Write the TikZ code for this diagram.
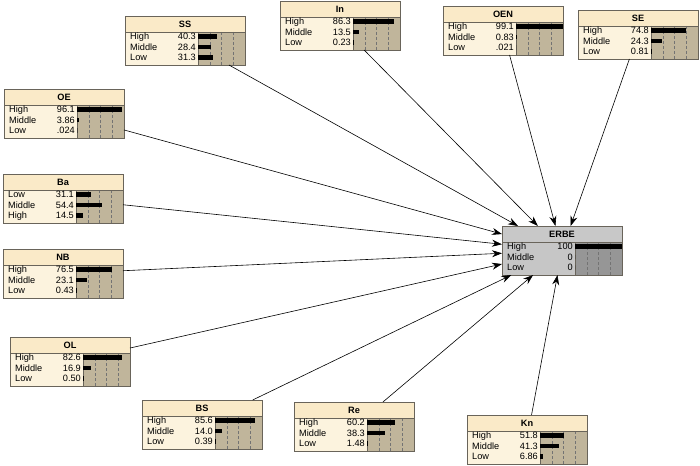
\documentclass[tikz,border=0pt]{standalone}
\usepackage{fontspec}
\setmainfont{Liberation Sans}
\usetikzlibrary{arrows.meta}
\definecolor{ttitle}{RGB}{250,234,200}
\definecolor{tbody}{RGB}{252,243,222}
\definecolor{tbar}{RGB}{192,181,155}
\definecolor{gtitle}{RGB}{200,200,200}
\definecolor{gbody}{RGB}{198,198,198}
\definecolor{gbar}{RGB}{150,150,150}
\definecolor{bordercol}{RGB}{105,100,90}
\newcommand\fsz{\fontsize{9.2}{10}\selectfont}
\newcommand\bnode[6]{%
  \fill[#6body] (#2,#3) rectangle ++(120,49);
  \fill[#6title] (#2,#3) rectangle ++(120,16);
  \fill[#6bar] ({#2+73},{#3+16}) rectangle ({#2+120},{#3+49});
  \foreach \ff in {0.25,0.5,0.75}
    \draw[densely dashed, line width=0.5pt, black!55] ({#2+73+47*\ff},{#3+16}) -- ++(0,33);
  \draw[bordercol] (#2,{#3+16}) -- ++(120,0);
  \draw[bordercol] ({#2+73},{#3+16}) -- ++(0,33);
  \node[font=\bfseries\fsz] at ({#2+60},{#3+8}) {#4};
  \foreach \lab/\val/\bv [count=\ii] in {#5} {
    \pgfmathsetmacro\yy{#3+20.5+10.5*(\ii-1)}
    \node[anchor=base west,font=\fsz,inner sep=0] at ({#2+5},{\yy+3.3}) {\lab};
    \node[anchor=base east,font=\fsz,inner sep=0] at ({#2+71},{\yy+3.3}) {\val};
    \fill[black] ({#2+73},{\yy-2.2}) rectangle ++({0.47*\bv},4.4);
  }
  \node[bbox] (#1) at ({#2+60},{#3+24.5}) {};
}
\begin{document}
\begin{tikzpicture}[x=1pt,y=-1pt,
  bbox/.style={draw=bordercol, line width=0.8pt, minimum width=120pt, minimum height=49pt, inner sep=0pt, outer sep=0pt},
  arr/.style={-{Stealth[length=10pt,width=7pt]}, line width=0.6pt, black}]
\useasboundingbox (0,0) rectangle (700,465);
\fill[white] (0,0) rectangle (700,465);
\bnode{SS}{125}{16}{SS}{High/40.3/40.3, Middle/28.4/28.4, Low/31.3/31.3}{t}
\bnode{In}{280}{1}{In}{High/86.3/86.3, Middle/13.5/13.5, Low/0.23/0.23}{t}
\bnode{OEN}{443}{6}{OEN}{High/99.1/99.1, Middle/0.83/0.83, Low/.021/0.021}{t}
\bnode{SE}{578}{10}{SE}{High/74.8/74.8, Middle/24.3/24.3, Low/0.81/0.81}{t}
\bnode{OE}{4}{89}{OE}{High/96.1/96.1, Middle/3.86/3.86, Low/.024/0.024}{t}
\bnode{Ba}{3}{174}{Ba}{Low/31.1/31.1, Middle/54.4/54.4, High/14.5/14.5}{t}
\bnode{NB}{3}{249}{NB}{High/76.5/76.5, Middle/23.1/23.1, Low/0.43/0.43}{t}
\bnode{OL}{10}{337}{OL}{High/82.6/82.6, Middle/16.9/16.9, Low/0.50/0.50}{t}
\bnode{BS}{142}{400}{BS}{High/85.6/85.6, Middle/14.0/14.0, Low/0.39/0.39}{t}
\bnode{Re}{294}{402}{Re}{High/60.2/60.2, Middle/38.3/38.3, Low/1.48/1.48}{t}
\bnode{Kn}{467}{415}{Kn}{High/51.8/51.8, Middle/41.3/41.3, Low/6.86/6.86}{t}
\bnode{ERBE}{502}{226}{ERBE}{High/100/100, Middle/0/0, Low/0/0}{g}
\foreach \src in {SS,In,OEN,SE,OE,Ba,NB,OL,BS,Re,Kn}
  \draw[arr] (\src) -- (ERBE);
\end{tikzpicture}
\end{document}
